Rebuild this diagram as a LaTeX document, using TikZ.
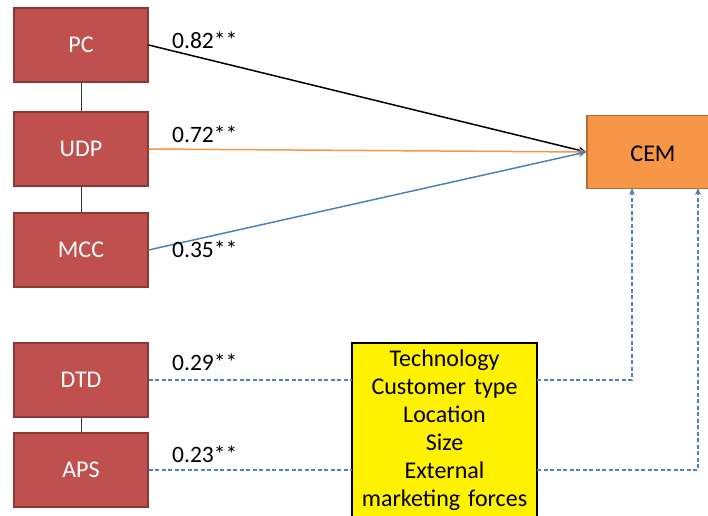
\documentclass[tikz,border=0pt]{standalone}
\usepackage{fontspec}
\setmainfont{Carlito}
\newfontfamily\modfont[WordSpace=0.55]{Carlito}
\usetikzlibrary{arrows.meta,backgrounds}
\definecolor{redfill}{HTML}{C0504D}
\definecolor{redline}{HTML}{8C3836}
\definecolor{orfill}{HTML}{F79646}
\definecolor{orline}{HTML}{B66D31}
\definecolor{bluel}{HTML}{4F81BD}
\tikzset{
  factor/.style={draw=redline, line width=1.2pt, fill=redfill, text=white,
    minimum width=134pt, minimum height=74pt, inner sep=0pt,
    font=\fontsize{24}{26}\selectfont},
  outcome/.style={draw=orline, line width=1.2pt, fill=orfill, text=black,
    minimum width=140pt, minimum height=73pt, inner sep=0pt},
  modbox/.style={text=black, text width=177pt, align=center,
    inner xsep=4pt, inner ysep=7pt,
    font=\modfont\fontsize{24}{28}\selectfont},
  modpanel/.style={draw=black, line width=1.5pt, fill=yellow},
  coef/.style={font=\fontsize{23.5}{26}\selectfont, inner sep=0pt},
  path/.style={line width=1.5pt, -{Stealth[length=8pt,width=7pt]}},
  moderated/.style={bluel, line width=1.4pt, dash pattern=on 4pt off 2.5pt},
  link/.style={line width=1pt, draw=black!80}
}
\begin{document}
\begin{tikzpicture}[x=1pt,y=-1pt]
\useasboundingbox (0,0) rectangle (708,515);

% predictors
\node[factor] (pc)  at (81,45)  {PC};
\node[factor] (udp) at (81,149) {UDP};
\node[factor] (mcc) at (81,250) {MCC};
\node[factor] (dtd) at (81,380) {DTD};
\node[factor] (aps) at (81,470) {APS};

% outcome
\node[outcome] (cem) at (657,152) {};
\node[anchor=base, font=\fontsize{24}{26}\selectfont] (cemlabel) at (653,161) {CEM};

% moderators: the panel runs past the lower edge of the page
\node[modbox, anchor=north] (mod) at (444.5,343)
  {Technology\\Customer type\\Location\\Size\\External\\marketing forces};
\coordinate (panelfoot) at (mod.south east |- 0,535);
\begin{scope}[on background layer]
  \fill[white] (0,0) rectangle (708,515);
  \draw[modpanel] (mod.north west) rectangle (panelfoot);
\end{scope}

% correlations between predictors
\draw[link] (pc) -- (udp);
\draw[link] (udp) -- (mcc);
\draw[link] (dtd) -- (aps);

% direct paths
\coordinate (tip) at (cem.west);
\draw[path, black] (pc.east) -- (tip);
\draw[path, orfill] (udp.east) -- (tip);
\draw[path, bluel] (mcc.east) -- (tip);

% moderated paths
\coordinate (m1) at (mod.west |- dtd.east);
\coordinate (m2) at (mod.west |- aps.east);
\draw[moderated] (dtd.east) -- (m1);
\draw[moderated] (aps.east) -- (m2);
\coordinate (r1) at (mod.east |- dtd.east);
\coordinate (r2) at (mod.east |- aps.east);
\coordinate (c1) at (632,188);
\coordinate (c2) at (698,188);
\draw[moderated, -{Stealth[length=7pt,width=6pt]}] (r1) -| (c1);
\draw[moderated, -{Stealth[length=7pt,width=6pt]}] (r2) -| (c2);

% coefficients
\node[coef, anchor=base west] (k1) at (172,48)  {0.82**};
\node[coef, anchor=base west] (k2) at (172,142) {0.72**};
\node[coef, anchor=base west] (k3) at (172,257) {0.35**};
\node[coef, anchor=base west] (k4) at (172,370) {0.29**};
\node[coef, anchor=base west] (k5) at (172,462) {0.23**};
\end{tikzpicture}
\end{document}
